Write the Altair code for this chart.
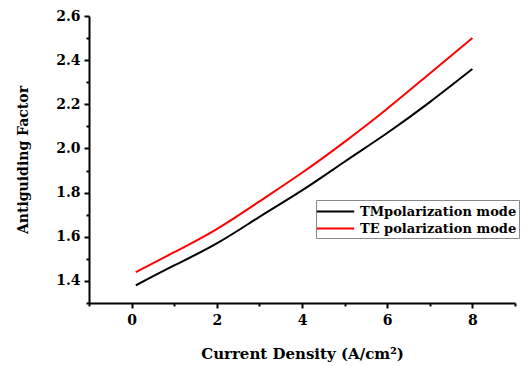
import altair as alt
import pandas as pd

current = [0.1, 1, 2, 3, 4, 5, 6, 7, 8]
tm_vals = [1.38, 1.47, 1.57, 1.69, 1.81, 1.94, 2.07, 2.21, 2.36]
te_vals = [1.44, 1.53, 1.635, 1.76, 1.89, 2.03, 2.18, 2.34, 2.50]
series_names = ["TMpolarization mode", "TE polarization mode"]
series_colors = ["#000000", "#ff0000"]
x_major = [0, 2, 4, 6, 8]
x_minor = [-1, 1, 3, 5, 7, 9]
y_major = [1.4, 1.6, 1.8, 2.0, 2.2, 2.4, 2.6]
y_minor = [1.3, 1.5, 1.7, 1.9, 2.1, 2.3, 2.5]

rows = []
for name, vals in zip(series_names, [tm_vals, te_vals]):
    for c, v in zip(current, vals):
        rows.append({"x": c, "y": v, "series": name})
df = pd.DataFrame(rows)

FONT = "DejaVu Serif"
xs = alt.Scale(domain=[-1, 9], nice=False, zero=False)
ys = alt.Scale(domain=[1.3, 2.6], nice=False, zero=False)

lines = alt.Chart(df).mark_line(strokeWidth=2, interpolate="natural").encode(
    x=alt.X("x:Q", scale=xs, axis=alt.Axis(
        values=x_major, title="Current Density (A/cm²)", format="d",
        orient="bottom", grid=False, domainColor="black", domainWidth=2,
        tickColor="black", tickWidth=2, tickSize=5,
        labelFont=FONT, labelFontSize=14, labelFontWeight="bold", labelColor="black",
        labelPadding=5,
        titleFont=FONT, titleFontSize=15, titleFontWeight="bold", titleColor="black",
        titlePadding=19)),
    y=alt.Y("y:Q", scale=ys, axis=alt.Axis(
        values=y_major, title="Antiguiding Factor", format=".1f",
        orient="left", grid=False, domainColor="black", domainWidth=2,
        tickColor="black", tickWidth=2, tickSize=5,
        labelFont=FONT, labelFontSize=14, labelFontWeight="bold", labelColor="black",
        labelPadding=4,
        titleFont=FONT, titleFontSize=14, titleFontWeight="bold", titleColor="black",
        titlePadding=25)),
    color=alt.Color("series:N", scale=alt.Scale(domain=series_names, range=series_colors),
                    sort=series_names,
                    legend=alt.Legend(
                        title=None, orient="none", legendX=227, legendY=184,
                        symbolType="M-2.2,0H2.2", symbolStrokeWidth=2, symbolSize=289,
                        symbolOffset=8,
                        labelFont=FONT, labelFontSize=13, labelFontWeight="bold",
                        labelColor="black", strokeColor="#888888", padding=2,
                        rowPadding=0, labelOffset=15, labelLimit=300, fillColor="white")),
    detail="series:N",
)

minor = alt.Chart(pd.DataFrame({"x": [0], "y": [1.3]})).mark_point(opacity=0).encode(
    x=alt.X("x:Q", scale=xs, axis=alt.Axis(
        values=x_minor, labels=False, title=None, orient="bottom", grid=False,
        domain=False, tickColor="black", tickWidth=2, tickSize=3)),
    y=alt.Y("y:Q", scale=ys, axis=alt.Axis(
        values=y_minor, labels=False, title=None, orient="left", grid=False,
        domain=False, tickColor="black", tickWidth=2, tickSize=3)),
)

chart = alt.layer(lines, minor).resolve_axis(x="independent", y="independent").properties(
    width=426, height=287,
    padding={"left": 89, "top": 16, "right": 11, "bottom": 63},
    autosize=alt.AutoSizeParams(type="none"),
).configure_view(stroke=None)

chart.save("out.html", embed_options={"renderer": "svg", "actions": False})
